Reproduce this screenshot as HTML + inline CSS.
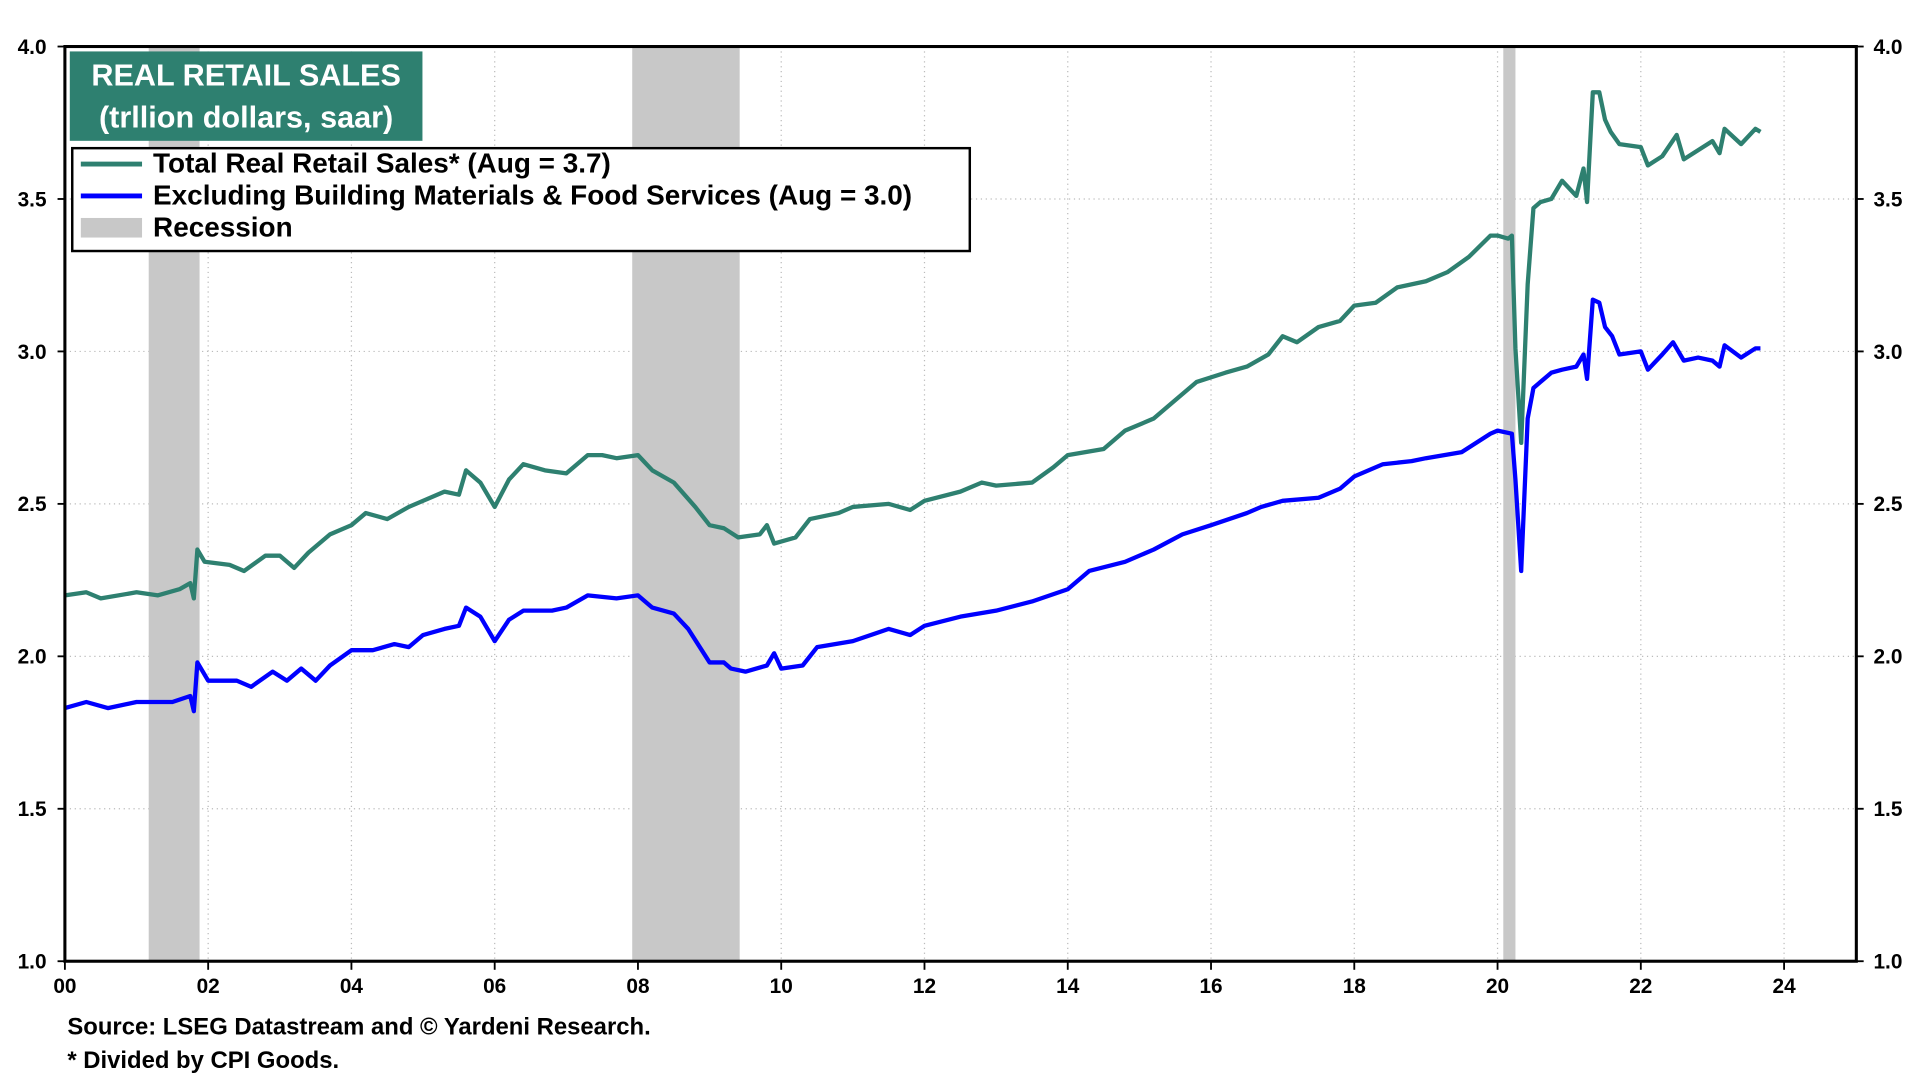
<!DOCTYPE html>
<html><head><meta charset="utf-8"><style>
html,body{margin:0;padding:0;background:#fff;}
svg{display:block;font-family:"Liberation Sans",Arial,sans-serif;font-weight:bold;}
</style></head><body>
<svg id="chart" width="1920" height="1080" viewBox="0 0 1568 882" xmlns="http://www.w3.org/2000/svg">
<g id="grid"></g>
<g id="rec"></g>
<g id="series"></g>
<rect x="53" y="38" width="1463" height="747" fill="none" stroke="#000" stroke-width="2.5"/>
<g id="axes"></g>
<rect x="57" y="42" width="288" height="73" fill="#2e8070"/>
<text x="201" y="70" text-anchor="middle" fill="#fff" font-size="25">REAL RETAIL SALES</text>
<text x="201" y="104" text-anchor="middle" fill="#fff" font-size="25">(trllion dollars, saar)</text>
<g>
<rect x="59" y="121" width="733" height="84" fill="#fff" stroke="#000" stroke-width="2"/>
<line x1="66" y1="134" x2="116" y2="134" stroke="#2e8070" stroke-width="4"/>
<text x="125" y="141" font-size="22.8">Total Real Retail Sales* (Aug = 3.7)</text>
<line x1="66" y1="160" x2="116" y2="160" stroke="#0000ff" stroke-width="4"/>
<text x="125" y="167" font-size="22.8">Excluding Building Materials &amp; Food Services (Aug = 3.0)</text>
<rect x="66" y="178" width="50" height="16" fill="#c8c8c8"/>
<text x="125" y="193" font-size="22.8">Recession</text>
</g>
<text x="55" y="845" font-size="19.5">Source: LSEG Datastream and © Yardeni Research.</text>
<text x="55" y="872" font-size="19.5">* Divided by CPI Goods.</text>
</svg>
<script>
const totalX=[2000.0,2000.3,2000.5,2001.0,2001.3,2001.6,2001.75,2001.8,2001.85,2001.95,2002.3,2002.5,2002.8,2003.0,2003.2,2003.4,2003.7,2004.0,2004.2,2004.5,2004.8,2005.0,2005.3,2005.5,2005.6,2005.8,2006.0,2006.2,2006.4,2006.7,2007.0,2007.3,2007.5,2007.7,2008.0,2008.2,2008.5,2008.8,2009.0,2009.2,2009.4,2009.7,2009.8,2009.9,2010.2,2010.4,2010.8,2011.0,2011.5,2011.8,2012.0,2012.5,2012.8,2013.0,2013.5,2013.8,2014.0,2014.5,2014.8,2015.2,2015.5,2015.8,2016.2,2016.5,2016.8,2017.0,2017.2,2017.5,2017.8,2018.0,2018.3,2018.6,2019.0,2019.3,2019.6,2019.9,2020.0,2020.15,2020.2,2020.25,2020.33,2020.42,2020.5,2020.6,2020.75,2020.9,2021.1,2021.2,2021.25,2021.33,2021.42,2021.5,2021.58,2021.7,2022.0,2022.1,2022.3,2022.5,2022.6,2022.8,2023.0,2023.1,2023.17,2023.4,2023.6,2023.67];
const totalY=[2.20,2.21,2.19,2.21,2.20,2.22,2.24,2.19,2.35,2.31,2.30,2.28,2.33,2.33,2.29,2.34,2.40,2.43,2.47,2.45,2.49,2.51,2.54,2.53,2.61,2.57,2.49,2.58,2.63,2.61,2.60,2.66,2.66,2.65,2.66,2.61,2.57,2.49,2.43,2.42,2.39,2.40,2.43,2.37,2.39,2.45,2.47,2.49,2.50,2.48,2.51,2.54,2.57,2.56,2.57,2.62,2.66,2.68,2.74,2.78,2.84,2.90,2.93,2.95,2.99,3.05,3.03,3.08,3.10,3.15,3.16,3.21,3.23,3.26,3.31,3.38,3.38,3.37,3.38,3.01,2.70,3.22,3.47,3.49,3.50,3.56,3.51,3.60,3.49,3.85,3.85,3.76,3.72,3.68,3.67,3.61,3.64,3.71,3.63,3.66,3.69,3.65,3.73,3.68,3.73,3.72];
const exclX=[2000.0,2000.3,2000.6,2001.0,2001.5,2001.75,2001.8,2001.85,2002.0,2002.4,2002.6,2002.9,2003.1,2003.3,2003.5,2003.7,2004.0,2004.3,2004.6,2004.8,2005.0,2005.3,2005.5,2005.6,2005.8,2006.0,2006.2,2006.4,2006.8,2007.0,2007.3,2007.7,2008.0,2008.2,2008.5,2008.7,2009.0,2009.2,2009.3,2009.5,2009.8,2009.9,2010.0,2010.3,2010.5,2011.0,2011.5,2011.8,2012.0,2012.5,2013.0,2013.5,2014.0,2014.3,2014.8,2015.2,2015.6,2016.0,2016.5,2016.7,2017.0,2017.5,2017.8,2018.0,2018.4,2018.8,2019.0,2019.5,2019.9,2020.0,2020.2,2020.25,2020.33,2020.42,2020.5,2020.6,2020.75,2020.9,2021.1,2021.2,2021.25,2021.33,2021.42,2021.5,2021.6,2021.7,2022.0,2022.1,2022.3,2022.45,2022.6,2022.8,2023.0,2023.1,2023.17,2023.4,2023.6,2023.67];
const exclY=[1.83,1.85,1.83,1.85,1.85,1.87,1.82,1.98,1.92,1.92,1.90,1.95,1.92,1.96,1.92,1.97,2.02,2.02,2.04,2.03,2.07,2.09,2.10,2.16,2.13,2.05,2.12,2.15,2.15,2.16,2.20,2.19,2.20,2.16,2.14,2.09,1.98,1.98,1.96,1.95,1.97,2.01,1.96,1.97,2.03,2.05,2.09,2.07,2.10,2.13,2.15,2.18,2.22,2.28,2.31,2.35,2.40,2.43,2.47,2.49,2.51,2.52,2.55,2.59,2.63,2.64,2.65,2.67,2.73,2.74,2.73,2.58,2.28,2.78,2.88,2.90,2.93,2.94,2.95,2.99,2.91,3.17,3.16,3.08,3.05,2.99,3.00,2.94,2.99,3.03,2.97,2.98,2.97,2.95,3.02,2.98,3.01,3.01];
const recStart=[2001.17,2007.92,2020.08];
const recEnd=[2001.88,2009.42,2020.25];
const yTicks=[1.0,1.5,2.0,2.5,3.0,3.5,4.0];
const xTicks=[2000,2002,2004,2006,2008,2010,2012,2014,2016,2018,2020,2022,2024];
const xTickLabels=["00","02","04","06","08","10","12","14","16","18","20","22","24"];

const NS="http://www.w3.org/2000/svg";
const X=v=>53+(v-2000)*58.5;
const Y=v=>785-(v-1)*249;
function mk(tag,attrs,parent){const e=document.createElementNS(NS,tag);for(const k in attrs)e.setAttribute(k,attrs[k]);parent.appendChild(e);return e;}
const grid=document.getElementById('grid'),rec=document.getElementById('rec'),ser=document.getElementById('series'),axes=document.getElementById('axes');
yTicks.forEach(t=>{
  const l=mk('line',{x1:53,x2:1516,y1:Y(t),y2:Y(t),stroke:'#bbb','stroke-width':1,'stroke-dasharray':'1,3'},grid);
  
  
  const a=mk('text',{x:38,y:Y(t)+6,'text-anchor':'end','font-size':17},axes);a.textContent=t.toFixed(1);
  
  
  const b=mk('text',{x:1530,y:Y(t)+6,'text-anchor':'start','font-size':17},axes);b.textContent=t.toFixed(1);
  
  
  mk('line',{x1:47,x2:53,y1:Y(t),y2:Y(t),stroke:'#000','stroke-width':1.5},axes);
  mk('line',{x1:1516,x2:1522,y1:Y(t),y2:Y(t),stroke:'#000','stroke-width':1.5},axes);
});
xTicks.forEach((t,i)=>{
  const l=mk('line',{x1:X(t),x2:X(t),y1:38,y2:785,stroke:'#bbb','stroke-width':1,'stroke-dasharray':'1,3'},grid);
  
  
  mk('line',{x1:X(t),x2:X(t),y1:785,y2:792,stroke:'#000','stroke-width':1.5},axes);
  const a=mk('text',{x:X(t),y:811,'text-anchor':'middle','font-size':17},axes);a.textContent=xTickLabels[i];
  
  
});
recStart.forEach((s,i)=>{
  const r=mk('rect',{x:X(s),y:38,width:X(recEnd[i])-X(s),height:747,fill:'#c8c8c8'},rec);
  
  
});
function line(xs,ys,color,name){
  const d=xs.map((x,i)=>(i?'L':'M')+X(x).toFixed(1)+','+Y(ys[i]).toFixed(1)).join('');
  const p=mk('path',{d:d,fill:'none',stroke:color,'stroke-width':3.5,'stroke-linejoin':'round'},ser);
  
  
}
line(exclX,exclY,'#0000ff','excluding-building-food-line');
line(totalX,totalY,'#2e8070','total-real-retail-sales-line');
</script>
</body></html>
